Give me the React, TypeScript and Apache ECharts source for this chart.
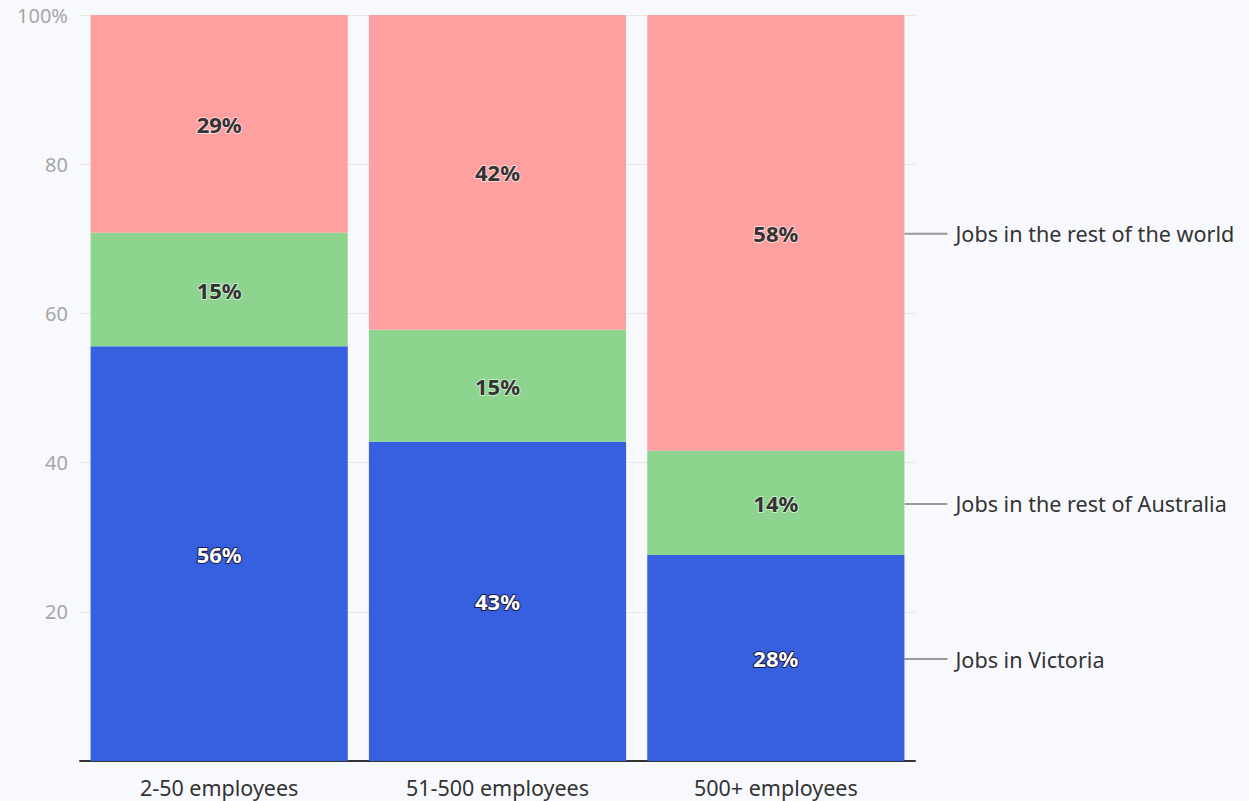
import React, { useEffect, useRef } from "react";
import * as echarts from "echarts";

const categories = ["2-50 employees", "51-500 employees", "500+ employees"];
const seriesNames = ["Jobs in Victoria", "Jobs in the rest of Australia", "Jobs in the rest of the world"];
const victoria = [55.6, 42.8, 27.6];
const restOfAustralia = [15.2, 15.0, 14.0];
const restOfWorld = [29.2, 42.2, 58.4];
const yTicks = [0, 20, 40, 60, 80, 100];

const colors = ["#3660e0", "#8dd48f", "#ffa0a0"];
const FONT = "'Source Sans Pro', 'Noto Sans', sans-serif";

export default function App() {
  const ref = useRef<HTMLDivElement>(null);
  useEffect(() => {
    document.body.style.margin = "0";
    const chart = echarts.init(ref.current!, null, { renderer: "svg" });
    const values = [victoria, restOfAustralia, restOfWorld];
    const labelStyles = [
      { color: "#ffffff", textBorderColor: "#1a1a40", textBorderWidth: 2 },
      { color: "#333333", textBorderColor: "#c9eccb", textBorderWidth: 2 },
      { color: "#333333", textBorderColor: "#ffd6d6", textBorderWidth: 2 },
    ];
    chart.setOption({
      animation: false,
      backgroundColor: "#f8f9fd",
      textStyle: { fontFamily: FONT },
      grid: { left: 80, right: 334, top: 15, bottom: 40, containLabel: false },
      xAxis: {
        type: "category",
        data: categories,
        axisLine: { show: true, lineStyle: { color: "#333333", width: 2 } },
        axisTick: { show: false },
        axisLabel: { color: "#333333", fontSize: 21.5, fontFamily: FONT, margin: 15 },
      },
      yAxis: {
        type: "value",
        min: yTicks[0],
        max: yTicks[yTicks.length - 1],
        interval: 20,
        axisLine: { show: false },
        axisTick: { show: false },
        splitLine: { show: true, lineStyle: { color: "#e6e6e6", width: 1 } },
        axisLabel: {
          color: "#a6a6a6",
          fontSize: 20,
          fontFamily: FONT,
          margin: 12,
          formatter: (v: number) => (v === 0 ? "" : v === 100 ? "100%" : String(v)),
        },
      },
      series: seriesNames.map((name, i) => ({
        name,
        type: "bar",
        stack: "total",
        data: values[i],
        barCategoryGap: "7.6%",
        itemStyle: { color: colors[i] },
        label: {
          show: true,
          position: "inside",
          fontSize: 22,
          fontWeight: "bold",
          fontFamily: FONT,
          formatter: (p: any) => Math.round(p.value) + "%",
          ...labelStyles[i],
        },
      })),
    });

    // leader labels at the right of the last bar
    const last = categories.length - 1;
    const rect = (chart as any).getModel().getComponent("grid").coordinateSystem.getRect();
    const catW = rect.width / categories.length;
    const barRight = rect.x + catW * (last + 0.5) + (catW * (1 - 0.076)) / 2;
    let base = 0;
    const graphics: any[] = [];
    values.forEach((arr, i) => {
      const mid = base + arr[last] / 2;
      base += arr[last];
      const y = chart.convertToPixel({ gridIndex: 0 }, [last, mid])[1];
      graphics.push({
        type: "line",
        shape: { x1: barRight, y1: y + 1, x2: barRight + 43, y2: y + 1 },
        style: { stroke: "#999999", lineWidth: 2 },
      });
      graphics.push({
        type: "text",
        x: barRight + 51,
        y: y + 1,
        style: {
          text: seriesNames[i],
          fill: "#333333",
          fontSize: 21.6,
          fontFamily: FONT,
          verticalAlign: "middle",
          align: "left",
        },
      });
    });
    chart.setOption({ graphic: graphics });
    return () => chart.dispose();
  }, []);
  return <div ref={ref} style={{ width: 1249, height: 801 }} />;
}
